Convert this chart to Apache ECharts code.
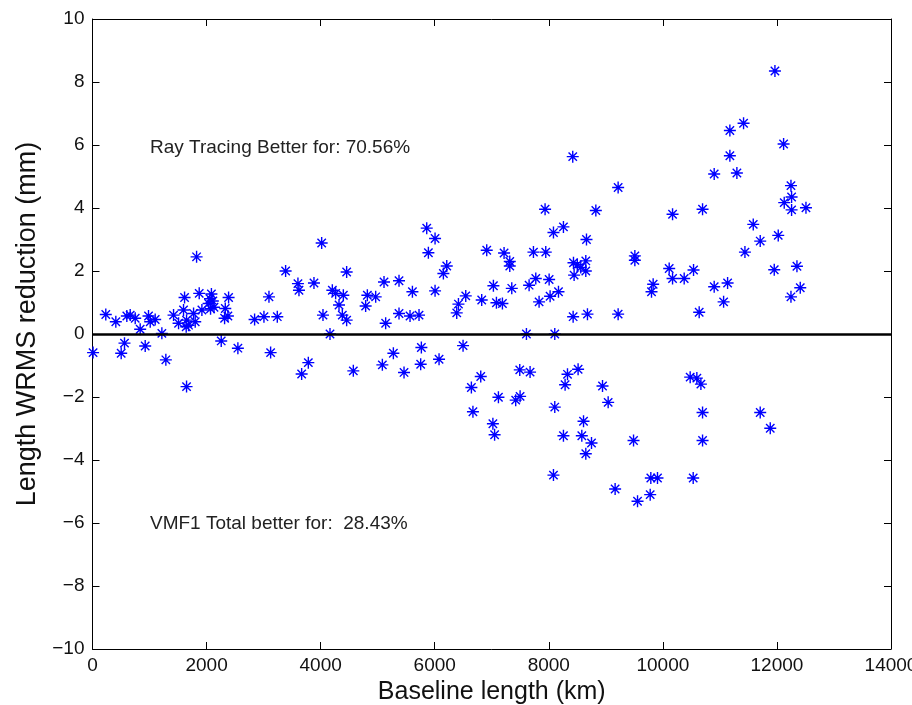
<!DOCTYPE html>
<html>
<head>
<meta charset="utf-8">
<script src="https://cdn.jsdelivr.net/npm/echarts@6/dist/echarts.min.js"></script>
<style>
html,body{margin:0;padding:0;background:#fff;}
#chart{width:912px;height:705px;}
</style>
</head>
<body>
<div id="chart"></div>
<script>
// Baseline length (km)
const baselineKm = [
  10, 233, 409, 561, 503, 602, 661, 749, 836, 924,
  982, 1012, 1099, 1216, 1286, 1421, 1509, 1614, 1596, 1649,
  1684, 1643, 1649, 1772, 1801, 1825, 1871, 1918, 2035, 2060,
  2085, 2070, 2110, 2130, 2328, 2386, 2316, 2374, 2257, 2549,
  2842, 3006, 3094, 3123, 3240, 3386, 3602, 3620, 3667, 3784,
  3883, 4018, 4041, 4164, 4205, 4263, 4398, 4322, 4380, 4456,
  4456, 4573, 4789, 4819, 4965, 5111, 5140, 5082, 5275, 5374,
  5374, 5462, 5567, 5609, 5725, 5766, 5754, 5860, 5889, 6006,
  6006, 6076, 6211, 6152, 6386, 6416, 6497, 6544, 6643, 6670,
  6807, 6824, 6912, 7029, 7082, 7187, 7117, 7020, 7050, 7216,
  7316, 7316, 7351, 7491, 7672, 7497, 7420, 7608, 7731, 7947,
  7935, 7772, 7655, 7830, 8006, 8023, 8170, 8082, 8257, 8661,
  8433, 8649, 8561, 8649, 8444, 8500, 8427, 8678, 9216, 8825,
  9216, 8420, 10170, 10696, 9509, 9509, 10111, 10170, 10374, 10538,
  9830, 9801, 10900, 10637, 8105, 8328, 8514, 8286, 8942, 9041,
  8105, 8609, 8257, 8579, 8749, 8649, 9486, 8082, 9163, 9556,
  9778, 9789, 9906, 10532, 10479, 10596, 10667, 10696, 10696, 11965,
  11415, 11175, 11175, 12117, 10900, 11298, 12246, 12257, 12128, 12257,
  12509, 11585, 12023, 11707, 11439, 11953, 12351, 11135, 11065, 12409,
  12246, 11707, 11883
];
// Length WRMS reduction (mm)
const wrmsReduction = [
  -0.59, 0.62, 0.39, -0.29, -0.61, 0.57, 0.60, 0.50, 0.15, -0.38,
  0.57, 0.39, 0.46, 0.02, -0.82, 0.60, 0.34, 1.16, 0.76, 0.44,
  0.28, 0.23, -1.67, 0.65, 0.39, 2.45, 1.29, 0.76, 0.97, 1.12,
  1.27, 0.80, 1.05, 0.85, 0.81, 1.16, 0.50, 0.57, -0.22, -0.45,
  0.46, 0.55, 1.18, -0.59, 0.55, 2.00, 1.60, 1.39, -1.27, -0.91,
  1.62, 2.89, 0.60, 0.00, 1.39, 1.29, 1.23, 0.92, 0.60, 0.44,
  1.97, -1.17, 0.89, 1.23, 1.18, 1.65, 0.34, -0.98, -0.61, 1.69,
  0.65, -1.22, 0.57, 1.34, 0.60, -0.43, -0.96, 3.36, 2.58, 3.03,
  1.37, -0.80, 2.16, 1.92, 0.67, 0.95, -0.37, 1.21, -1.70, -2.47,
  -1.35, 1.08, 2.66, 1.53, 0.99, 0.97, -2.01, -2.85, -3.20, 2.57,
  2.30, 2.16, 1.45, -1.14, -1.21, -1.98, -2.10, 0.00, 2.60, 2.60,
  3.96, 1.76, 1.55, 1.02, 1.73, 1.20, 1.34, 3.22, 3.40, 3.00,
  2.26, 2.32, 2.11, 2.00, 1.87, 2.20, 0.55, 0.63, 0.63, 3.92,
  4.65, 5.63, 3.80, 3.96, 2.48, 2.34, 2.08, 1.76, 1.76, 2.03,
  1.58, 1.34, 1.50, 0.69, 0.00, -1.28, -1.12, -1.61, -1.65, -2.17,
  -2.32, -2.77, -3.23, -3.23, -3.46, -3.80, -3.38, -4.48, -4.92, -5.31,
  -5.10, -4.57, -4.57, -4.57, -1.37, -1.40, -1.59, -2.49, -3.38, 8.35,
  6.69, 6.46, 5.66, 6.03, 5.08, 5.11, 4.71, 4.35, 4.17, 3.94,
  4.01, 3.48, 3.13, 2.95, 2.60, 2.04, 2.15, 1.62, 1.02, 1.47,
  1.18, -2.49, -2.99
];
const xTicks = [0, 2000, 4000, 6000, 8000, 10000, 12000, 14000];
const yTicks = [-10, -8, -6, -4, -2, 0, 2, 4, 6, 8, 10];
const annotations = [
  'Ray Tracing Better for: 70.56%',
  'VMF1 Total better for:  28.43%'
];

const points = baselineKm.map((x, i) => [x, wrmsReduction[i]]);

const tickFont = {fontFamily: '"Liberation Sans", Arial, sans-serif', fontSize: 19, color: '#111'};
const axisBase = {
  axisLine: {show: true, onZero: false, lineStyle: {color: '#000', width: 1}},
  axisTick: {show: true, inside: true, length: 7, lineStyle: {color: '#000', width: 1}},
  splitLine: {show: false}
};

const chart = echarts.init(document.getElementById('chart'), null, {renderer: 'canvas'});
chart.setOption({
  animation: false,
  backgroundColor: '#fff',
  grid: {left: 92.5, right: 21, top: 19, bottom: 56, containLabel: false, outerBoundsMode: 'none'},
  xAxis: [
    Object.assign({}, axisBase, {
      type: 'value', position: 'bottom',
      min: xTicks[0], max: xTicks[xTicks.length - 1], interval: 2000,
      axisLabel: Object.assign({}, tickFont, {margin: 7, showMinLabel: true, showMaxLabel: true,
        hideOverlap: false, formatter: v => String(v)}),
      name: 'Baseline length (km)', nameLocation: 'middle', nameGap: 26,
      nameTextStyle: {fontFamily: '"Liberation Sans", Arial, sans-serif', fontSize: 25, color: '#111'}
    }),
    Object.assign({}, axisBase, {
      type: 'value', position: 'top',
      min: xTicks[0], max: xTicks[xTicks.length - 1], interval: 2000,
      axisLabel: {show: false}
    })
  ],
  yAxis: [
    Object.assign({}, axisBase, {
      type: 'value', position: 'left',
      min: yTicks[0], max: yTicks[yTicks.length - 1], interval: 2,
      axisLabel: Object.assign({}, tickFont, {margin: 8, showMinLabel: true, showMaxLabel: true,
        formatter: v => (v < 0 ? '\u2212' + Math.abs(v) : String(v))}),
      name: 'Length WRMS reduction (mm)', nameLocation: 'middle', nameGap: 50,
      nameTextStyle: {fontFamily: '"Liberation Sans", Arial, sans-serif', fontSize: 27, color: '#111',
        padding: [0, 0, 0, 20]}
    }),
    Object.assign({}, axisBase, {
      type: 'value', position: 'right',
      min: yTicks[0], max: yTicks[yTicks.length - 1], interval: 2,
      axisLabel: {show: false}
    })
  ],
  graphic: [
    {type: 'text', left: 150, top: 138, style: {text: annotations[0], font: '19px "Liberation Sans", Arial, sans-serif', fill: '#222'}},
    {type: 'text', left: 150, top: 514, style: {text: annotations[1], font: '19px "Liberation Sans", Arial, sans-serif', fill: '#222'}}
  ],
  series: [{
    type: 'scatter',
    xAxisIndex: 0, yAxisIndex: 0,
    data: points,
    symbol: 'path://M0,-10L0,10M-10,0L10,0M-7,-7L7,7M-7,7L7,-7',
    symbolSize: 12,
    itemStyle: {color: '#0000ff', borderColor: '#0000ff', borderWidth: 1.4, opacity: 1},
    emphasis: {disabled: true},
    markLine: {
      silent: true,
      symbol: ['none', 'none'],
      label: {show: false},
      lineStyle: {color: '#000', width: 2.6, type: 'solid'},
      data: [{yAxis: 0}]
    }
  }]
});
</script>
</body>
</html>
